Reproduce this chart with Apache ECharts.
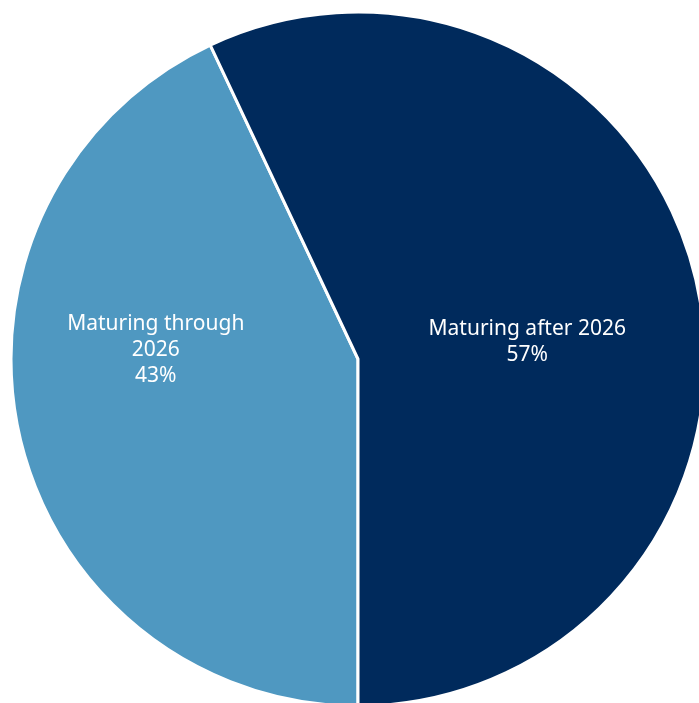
<!DOCTYPE html>
<html>
<head>
<meta charset="utf-8">
<script src="https://cdn.jsdelivr.net/npm/echarts@6/dist/echarts.min.js"></script>
<style>
  html, body { margin: 0; padding: 0; background: #ffffff; }
  #chart { width: 699px; height: 703px; }
</style>
</head>
<body>
<div id="chart"></div>
<script>
// Debt maturity split (share of total, %)
const categories = ['Maturing through\n2026', 'Maturing after 2026'];
const shares = [43, 57];
const sliceColors = ['#4f98c1', '#002a5c'];
const labelOffsets = [[-30, -47], [-3, 22]];

const chart = echarts.init(document.getElementById('chart'));
chart.setOption({
  animation: false,
  backgroundColor: '#ffffff',
  series: [{
    type: 'pie',
    center: [358, 359],
    radius: [0, 347],
    startAngle: -90,
    clockwise: true,
    avoidLabelOverlap: false,
    itemStyle: { borderColor: '#ffffff', borderWidth: 3 },
    label: {
      position: 'inside',
      color: '#ffffff',
      fontFamily: 'Noto Sans',
      fontSize: 21,
      lineHeight: 26,
      align: 'center',
      formatter: p => p.name + '\n' + p.value + '%'
    },
    labelLine: { show: false },
    emphasis: { disabled: true },
    data: categories.map((name, i) => ({
      name: name,
      value: shares[i],
      itemStyle: { color: sliceColors[i] },
      label: { offset: labelOffsets[i] }
    }))
  }]
});
</script>
</body>
</html>
